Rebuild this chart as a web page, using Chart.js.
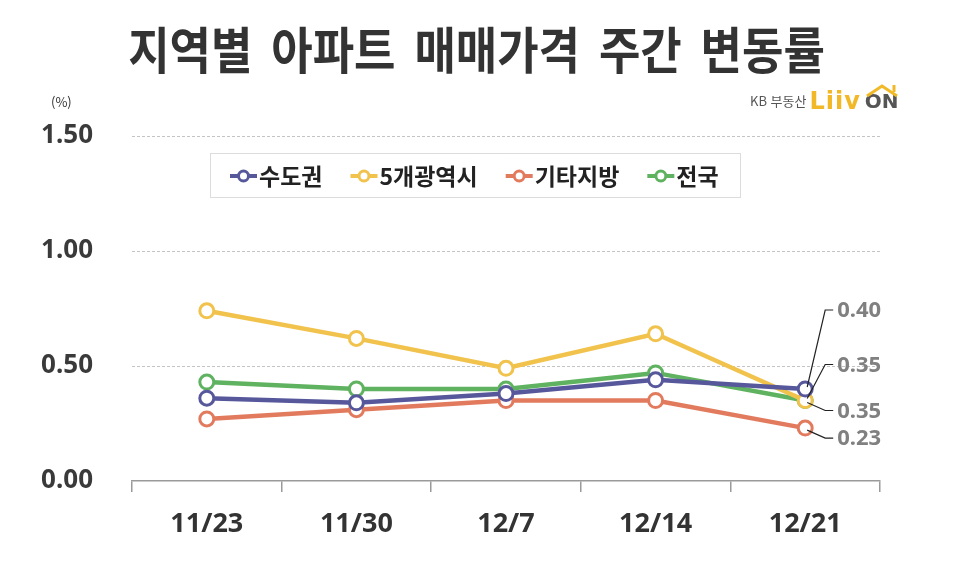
<!DOCTYPE html>
<html lang="ko">
<head>
    <meta charset="UTF-8">
    <title>지역별 아파트 매매가격 주간 변동률</title>
    <script src="https://cdn.jsdelivr.net/npm/chart.js"></script>
    <style>
        body {
            margin: 0;
            padding: 0;
            background-color: #fff;
            font-family: "Noto Sans CJK KR", "Noto Sans", sans-serif;
        }

        .wrap {
            position: relative;
            width: 953px;
            height: 572px;
            overflow: hidden;
        }

        h1 {
            position: absolute;
            left: 0;
            width: 953px;
            top: 10px;
            margin: 0;
            text-align: center;
            font-size: 50px;
            font-weight: 700;
            color: #333;
            line-height: 74px;
            transform: scaleX(0.9);
            word-spacing: 7px;
        }

        .unit {
            position: absolute;
            left: 51px;
            top: 92px;
            font-size: 13px;
            color: #333;
        }

        .logo {
            position: absolute;
            left: 750px;
            top: 86px;
            height: 30px;
            white-space: nowrap;
        }

        .logo .kb {
            font-size: 13px;
            color: #555;
            vertical-align: middle;
        }

        .logo .liiv {
            font-family: "DejaVu Sans", sans-serif;
            font-size: 24px;
            font-weight: 700;
            color: #f1b928;
            vertical-align: middle;
            margin-left: 3px;
            letter-spacing: 1px;
        }

        .logo .on {
            font-family: "DejaVu Sans", sans-serif;
            font-size: 20px;
            font-weight: 700;
            color: #555;
            vertical-align: middle;
            margin-left: 4px;
        }

        .logo svg {
            position: absolute;
            left: 114px;
            top: -4px;
        }

        canvas {
            position: absolute;
            left: 0;
            top: 0;
        }
    </style>
</head>
<body>
<div class="wrap">
    <canvas id="rateChart" width="953" height="572"></canvas>
    <h1>지역별 아파트 매매가격 주간 변동률</h1>
    <div class="unit">(%)</div>
    <div class="logo">
        <span class="kb">KB 부동산</span><span class="liiv">Liiv</span><span class="on">ON</span>
        <svg width="36" height="16"><polyline points="3,14 18,4 33,14" fill="none" stroke="#f1b928" stroke-width="3"/><line x1="30" y1="3" x2="30" y2="10" stroke="#f1b928" stroke-width="3"/></svg>
    </div>
</div>

<script>
    // weekly dates
    const weeks = ['11/23', '11/30', '12/7', '12/14', '12/21'];

    // series (%)
    const seoulMetro = [0.36, 0.34, 0.38, 0.44, 0.40];   // 수도권
    const fiveCities = [0.74, 0.62, 0.49, 0.64, 0.35];   // 5개광역시
    const otherRegions = [0.27, 0.31, 0.35, 0.35, 0.23]; // 기타지방
    const nationwide = [0.43, 0.40, 0.40, 0.47, 0.35];   // 전국

    const seriesNames = ['수도권', '5개광역시', '기타지방', '전국'];
    const seriesColors = ['#57589c', '#f1c24c', '#e27b5e', '#5fb25f'];

    // y axis ticks
    const yTicks = [0, 0.5, 1.0, 1.5];

    // end label offsets from the last point (px) - leader line layout
    const labelShift = [-79, -36, 10, 10];

    function makeSet(i, values) {
        return {
            label: seriesNames[i],
            data: values,
            borderColor: seriesColors[i],
            backgroundColor: '#fff',
            borderWidth: 4.5,
            pointRadius: 7,
            pointBorderWidth: 3,
            pointBackgroundColor: '#fff',
            pointBorderColor: seriesColors[i],
            tension: 0
        };
    }

    // legend drawn inside the chart area
    const boxLegend = {
        id: 'boxLegend',
        afterDraw(chart) {
            const c = chart.ctx;
            const left = 210, top = 153, w = 530, h = 44;
            c.save();
            c.strokeStyle = '#b8b8b8';
            c.lineWidth = 1;
            c.setLineDash([1, 1]);
            c.strokeRect(left + 0.5, top + 0.5, w, h);
            c.setLineDash([]);
            c.font = 'bold 23px "Noto Sans CJK KR"';
            c.textBaseline = 'middle';
            let x = left + 20;
            const y = top + h / 2 + 1;
            chart.data.datasets.forEach(ds => {
                c.strokeStyle = ds.borderColor;
                c.lineWidth = 4;
                c.beginPath();
                c.moveTo(x, y);
                c.lineTo(x + 27, y);
                c.stroke();
                c.beginPath();
                c.arc(x + 13.5, y, 5, 0, Math.PI * 2);
                c.fillStyle = '#fff';
                c.fill();
                c.lineWidth = 3;
                c.stroke();
                c.fillStyle = '#222';
                c.fillText(ds.label, x + 29, y);
                x += 29 + c.measureText(ds.label).width + 28;
            });
            c.restore();
        }
    };

    // value labels with leader lines at the last week
    const endLabels = {
        id: 'endLabels',
        afterDatasetsDraw(chart) {
            const c = chart.ctx;
            c.save();
            c.font = 'bold 22px "Noto Sans", sans-serif';
            c.textBaseline = 'middle';
            c.fillStyle = '#808080';
            c.strokeStyle = '#222';
            c.lineWidth = 1.2;
            chart.data.datasets.forEach((ds, i) => {
                const meta = chart.getDatasetMeta(i);
                const last = meta.data[meta.data.length - 1];
                const v = ds.data[ds.data.length - 1];
                const ly = last.y + labelShift[i];
                c.beginPath();
                c.moveTo(last.x + 2, last.y + (labelShift[i] < 0 ? -2 : 2));
                c.lineTo(last.x + 20, ly);
                c.lineTo(last.x + 28, ly);
                c.stroke();
                c.fillText(v.toFixed(2), last.x + 32, ly + 1);
            });
            c.restore();
        }
    };

    const ctx = document.getElementById('rateChart').getContext('2d');
    const chart = new Chart(ctx, {
        type: 'line',
        data: {
            labels: weeks,
            datasets: [
                makeSet(0, seoulMetro),
                makeSet(1, fiveCities),
                makeSet(2, otherRegions),
                makeSet(3, nationwide)
            ]
        },
        options: {
            responsive: false,
            animation: false,
            layout: {
                padding: { top: 136, right: 73, left: 0, bottom: 0 }
            },
            plugins: {
                legend: { display: false },
                tooltip: { enabled: false }
            },
            scales: {
                x: {
                    offset: true,
                    afterFit: s => { s.height = 91; },
                    grid: {
                        offset: true,
                        drawOnChartArea: false,
                        tickLength: 11,
                        color: '#9a9a9a',
                        lineWidth: 1.5
                    },
                    border: { color: '#9a9a9a', width: 1.5 },
                    ticks: {
                        padding: 16,
                        color: '#333',
                        font: { family: '"Noto Sans", sans-serif', size: 27, weight: 'bold' }
                    }
                },
                y: {
                    min: 0,
                    max: 1.5,
                    afterFit: s => { s.width = 132; },
                    afterBuildTicks: s => { s.ticks = yTicks.map(v => ({ value: v })); },
                    grid: {
                        drawTicks: false,
                        color: ctx => ctx.tick && ctx.tick.value === 0 ? 'rgba(0,0,0,0)' : '#c4c4c4'
                    },
                    border: { display: false, dash: [3, 2] },
                    ticks: {
                        padding: 39,
                        color: '#3a3a3a',
                        font: { family: '"Noto Sans", sans-serif', size: 26, weight: 'bold' },
                        callback: v => Number(v).toFixed(2)
                    }
                }
            }
        },
        plugins: [boxLegend, endLabels]
    });
</script>
</body>
</html>
